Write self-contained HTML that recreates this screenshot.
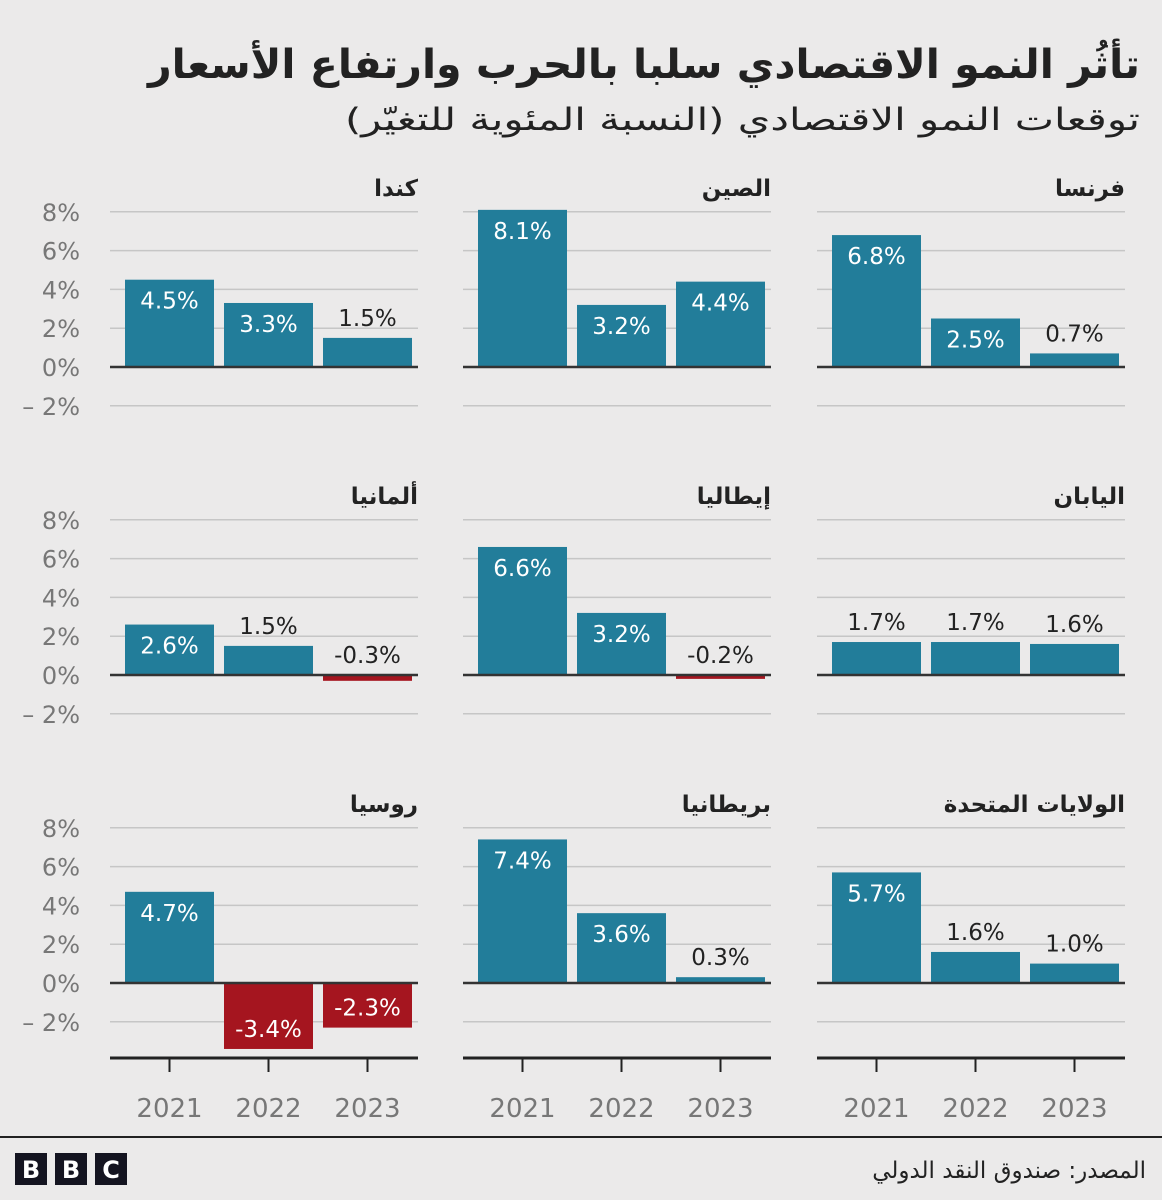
<!DOCTYPE html>
<html><head><meta charset="utf-8">
<style>
html,body{margin:0;padding:0;background:#ebeaea;}
svg{display:block;}
text{font-family:"DejaVu Sans","Liberation Sans",sans-serif;}
</style></head>
<body>
<svg id="chart" width="1162" height="1200" viewBox="0 0 1162 1200" xmlns="http://www.w3.org/2000/svg">
<rect x="0" y="0" width="1162" height="1200" fill="#ebeaea"/>
<text x="1140" y="78" text-anchor="start" font-size="40" font-weight="bold" fill="#222" direction="rtl" textLength="992" lengthAdjust="spacingAndGlyphs">تأثُر النمو الاقتصادي سلبا بالحرب وارتفاع الأسعار</text>
<text x="1140" y="130" text-anchor="start" font-size="31" fill="#222" direction="rtl" textLength="795" lengthAdjust="spacingAndGlyphs">توقعات النمو الاقتصادي (النسبة المئوية للتغيّر)</text>
<g id="panels"></g>
<line x1="0" y1="1137" x2="1162" y2="1137" stroke="#222" stroke-width="2"/>
<g>
<rect x="15" y="1153" width="32" height="32" fill="#141420"/><text x="31" y="1178" text-anchor="middle" font-size="24" font-weight="bold" fill="#fff">B</text>
<rect x="55" y="1153" width="32" height="32" fill="#141420"/><text x="71" y="1178" text-anchor="middle" font-size="24" font-weight="bold" fill="#fff">B</text>
<rect x="95" y="1153" width="32" height="32" fill="#141420"/><text x="111" y="1178" text-anchor="middle" font-size="24" font-weight="bold" fill="#fff">C</text>
</g>
<text x="1146" y="1178" text-anchor="start" font-size="23" fill="#222" direction="rtl">المصدر: صندوق النقد الدولي</text>
</svg>
<script>
const countries = ["فرنسا","الصين","كندا","اليابان","إيطاليا","ألمانيا","الولايات المتحدة","بريطانيا","روسيا"];
const years = ["2021","2022","2023"];
const franceVals = [6.8, 2.5, 0.7];
const chinaVals = [8.1, 3.2, 4.4];
const canadaVals = [4.5, 3.3, 1.5];
const japanVals = [1.7, 1.7, 1.6];
const italyVals = [6.6, 3.2, -0.2];
const germanyVals = [2.6, 1.5, -0.3];
const usVals = [5.7, 1.6, 1.0];
const ukVals = [7.4, 3.6, 0.3];
const russiaVals = [4.7, -3.4, -2.3];
const yTicks = [8, 6, 4, 2, 0, -2];
const yTickLabels = ["8%","6%","4%","2%","0%","\u2013 2%"];

const allVals = [franceVals, chinaVals, canadaVals, japanVals, italyVals, germanyVals, usVals, ukVals, russiaVals];
const NS = "http://www.w3.org/2000/svg";
const g = document.getElementById("panels");
const colLeft = [817, 463, 110];
const panelW = 308;
const rowZero = [367, 675, 983];
const pxPer = 19.4;
function yScale(row, v){ return rowZero[row] - v * pxPer; }
function xBand(col, i){ return colLeft[col] + 15 + i * 99; }
const bw = 89;
function mk(tag, attrs){ const e = document.createElementNS(NS, tag); for (const k in attrs) e.setAttribute(k, attrs[k]); g.appendChild(e); return e; }

for (let p = 0; p < 9; p++) {
  const row = Math.floor(p / 3), col = p % 3;
  const vals = allVals[p];
  const L = colLeft[col];
  yTicks.forEach((t, ti) => {
    const y = yScale(row, t);
    if (t === 0) return;
    const ln = mk("line", {x1: L, x2: L + panelW, y1: y, y2: y, stroke: "#c6c6c6", "stroke-width": 1.5});
    
    
    if (col === 2) {
      const tl = mk("text", {x: 80, y: y + 9, "text-anchor": "end", "font-size": 24, fill: "#777"});
      tl.textContent = yTickLabels[ti];
      
      
    }
  });
  if (col === 2) {
    const tl = mk("text", {x: 80, y: yScale(row, 0) + 9, "text-anchor": "end", "font-size": 24, fill: "#777"});
    tl.textContent = yTickLabels[4];
    
    
  }
  const tt = mk("text", {x: L + panelW, y: yScale(row, 8) - 16, "text-anchor": "start", "font-size": 23, "font-weight": "bold", fill: "#222", direction: "rtl"});
  tt.textContent = countries[p];
  
  
  vals.forEach((v, i) => {
    const x = xBand(col, i);
    const y0 = yScale(row, 0), y1 = yScale(row, v);
    const neg = v < 0;
    const r = mk("rect", {x: x, y: Math.min(y0, y1), width: bw, height: Math.max(1, Math.abs(y1 - y0)), fill: neg ? "#a5151f" : "#227d9a"});
    
    
    const inside = Math.abs(v) >= 2;
    let ty, fill;
    if (inside) { ty = neg ? y1 - 12 : y1 + 29; fill = "#fff"; }
    else { ty = Math.min(y0, y1) - 12; fill = "#222"; }
    const lb = mk("text", {x: x + bw / 2, y: ty, "text-anchor": "middle", "font-size": 23, fill: fill});
    lb.textContent = v.toFixed(1) + "%";
    
    
  });
  const z = mk("line", {x1: L, x2: L + panelW, y1: yScale(row, 0), y2: yScale(row, 0), stroke: "#333", "stroke-width": 2.5});
  
  
  if (row === 2) {
    const by = 1058;
    const ax = mk("line", {x1: L, x2: L + panelW, y1: by, y2: by, stroke: "#222", "stroke-width": 3});
    
    
    years.forEach((yr, i) => {
      const cx = xBand(col, i) + bw / 2;
      const tk = mk("line", {x1: cx, x2: cx, y1: by, y2: by + 14, stroke: "#222", "stroke-width": 2});
      
      
      const yl = mk("text", {x: cx, y: 1117, "text-anchor": "middle", "font-size": 26, fill: "#777"});
      yl.textContent = yr;
      
      
    });
  }
}
</script>
</body></html>
